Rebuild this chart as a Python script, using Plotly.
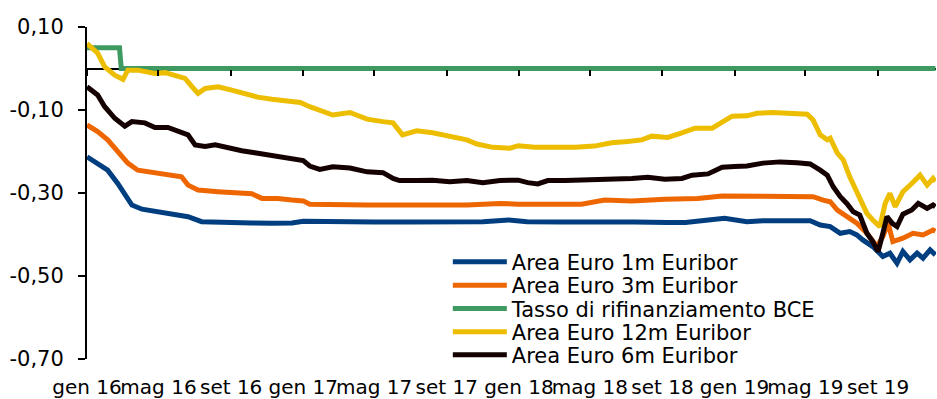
import plotly.graph_objects as go

# ---- data -------------------------------------------------------------
tick_dates = ["2016-01-01", "2016-05-01", "2016-09-01", "2017-01-01", "2017-05-01",
              "2017-09-01", "2018-01-01", "2018-05-01", "2018-09-01", "2019-01-01",
              "2019-05-01", "2019-09-01"]
tick_labels = ["gen 16", "mag 16", "set 16", "gen 17", "mag 17", "set 17",
               "gen 18", "mag 18", "set 18", "gen 19", "mag 19", "set 19"]

y_tick_vals = [0.10, -0.10, -0.30, -0.50, -0.70]
y_tick_text = ["0,10", "-0,10", "-0,30", "-0,50", "-0,70"]

eur1m_dates = ["2016-01-01", "2016-01-19", "2016-02-05", "2016-02-22", "2016-03-08",
               "2016-03-17", "2016-04-03", "2016-04-30", "2016-05-29", "2016-06-20",
               "2016-07-13", "2016-08-22", "2016-10-06", "2016-11-09", "2016-12-13",
               "2017-01-01", "2017-03-01", "2017-05-01", "2017-07-01", "2017-09-01",
               "2017-11-01", "2017-12-15", "2018-01-15", "2018-03-15", "2018-05-15",
               "2018-07-15", "2018-09-10", "2018-10-10", "2018-12-15", "2019-01-22",
               "2019-02-18", "2019-04-05", "2019-05-09", "2019-05-26", "2019-06-12",
               "2019-06-29", "2019-07-15", "2019-07-27", "2019-08-06", "2019-08-23",
               "2019-09-09", "2019-09-21", "2019-10-03", "2019-10-13", "2019-10-25",
               "2019-11-06", "2019-11-16", "2019-11-28", "2019-12-07"]
eur1m = [-0.213, -0.228, -0.245, -0.277, -0.309,
         -0.329, -0.339, -0.345, -0.351, -0.357,
         -0.369, -0.369, -0.372, -0.373, -0.372,
         -0.368, -0.370, -0.370, -0.370, -0.370,
         -0.369, -0.365, -0.369, -0.370, -0.369,
         -0.370, -0.371, -0.371, -0.361, -0.369,
         -0.367, -0.367, -0.367, -0.377, -0.381,
         -0.397, -0.393, -0.401, -0.413, -0.429,
         -0.453, -0.445, -0.469, -0.441, -0.461,
         -0.445, -0.457, -0.437, -0.449]

eur3m_dates = ["2016-01-01", "2016-01-19", "2016-02-05", "2016-02-22", "2016-03-10",
               "2016-03-27", "2016-04-20", "2016-05-12", "2016-06-09", "2016-06-20",
               "2016-07-07", "2016-08-10", "2016-09-13", "2016-10-06", "2016-10-23",
               "2016-11-19", "2016-12-13", "2017-01-01", "2017-01-12", "2017-02-20",
               "2017-04-19", "2017-06-13", "2017-08-08", "2017-10-05", "2017-11-30",
               "2017-12-31", "2018-02-19", "2018-04-17", "2018-05-26", "2018-07-11",
               "2018-09-05", "2018-10-31", "2018-12-11", "2019-01-01", "2019-02-18",
               "2019-04-17", "2019-05-14", "2019-05-31", "2019-06-12", "2019-06-24",
               "2019-07-10", "2019-07-27", "2019-08-13", "2019-08-30", "2019-09-09",
               "2019-09-18", "2019-09-26", "2019-10-13", "2019-10-30", "2019-11-16",
               "2019-12-03", "2019-12-07"]
eur3m = [-0.136, -0.152, -0.172, -0.200, -0.228,
         -0.245, -0.251, -0.257, -0.261, -0.281,
         -0.293, -0.297, -0.301, -0.302, -0.313,
         -0.313, -0.317, -0.319, -0.327, -0.329,
         -0.329, -0.329, -0.329, -0.329, -0.325,
         -0.327, -0.327, -0.327, -0.317, -0.319,
         -0.315, -0.313, -0.307, -0.307, -0.309,
         -0.309, -0.309, -0.317, -0.321, -0.341,
         -0.357, -0.373, -0.397, -0.429, -0.405,
         -0.373, -0.417, -0.409, -0.397, -0.401,
         -0.389, -0.392]

bce_dates = ["2016-01-01", "2016-02-25", "2016-02-28", "2019-12-07"]
bce = [0.05, 0.05, 0.00, 0.00]

eur12m_dates = ["2016-01-01", "2016-01-19", "2016-01-31", "2016-02-17", "2016-03-02",
                "2016-03-10", "2016-03-27", "2016-04-08", "2016-04-25", "2016-05-12",
                "2016-05-29", "2016-06-15", "2016-06-27", "2016-07-07", "2016-07-19",
                "2016-08-10", "2016-09-02", "2016-09-24", "2016-10-16", "2016-11-09",
                "2016-12-01", "2016-12-27", "2017-01-12", "2017-01-29", "2017-02-20",
                "2017-03-21", "2017-04-19", "2017-05-16", "2017-06-02", "2017-06-18",
                "2017-07-12", "2017-08-08", "2017-09-06", "2017-10-05", "2017-10-22",
                "2017-11-18", "2017-12-17", "2017-12-31", "2018-01-28", "2018-03-03",
                "2018-04-06", "2018-05-09", "2018-06-07", "2018-07-04", "2018-07-28",
                "2018-08-14", "2018-09-10", "2018-10-04", "2018-10-26", "2018-11-24",
                "2018-12-11", "2018-12-28", "2019-01-22", "2019-02-08", "2019-03-07",
                "2019-04-05", "2019-05-04", "2019-05-14", "2019-05-26", "2019-06-07",
                "2019-06-12", "2019-06-24", "2019-07-04", "2019-07-15", "2019-07-27",
                "2019-08-01", "2019-08-13", "2019-08-23", "2019-09-04", "2019-09-13",
                "2019-09-21", "2019-09-30", "2019-10-13", "2019-10-28", "2019-11-11",
                "2019-11-23", "2019-12-03", "2019-12-07"]
eur12m = [0.060, 0.037, 0.004, -0.016, -0.026,
          -0.004, -0.004, -0.008, -0.012, -0.010,
          -0.016, -0.024, -0.044, -0.060, -0.048,
          -0.044, -0.052, -0.060, -0.069, -0.074,
          -0.078, -0.082, -0.092, -0.100, -0.112,
          -0.106, -0.122, -0.128, -0.131, -0.160,
          -0.150, -0.155, -0.164, -0.172, -0.182,
          -0.190, -0.192, -0.186, -0.190, -0.191,
          -0.190, -0.187, -0.179, -0.176, -0.172,
          -0.163, -0.166, -0.155, -0.144, -0.144,
          -0.128, -0.115, -0.114, -0.108, -0.106,
          -0.108, -0.110, -0.124, -0.160, -0.172,
          -0.168, -0.204, -0.220, -0.261, -0.297,
          -0.309, -0.349, -0.365, -0.381, -0.325,
          -0.301, -0.333, -0.297, -0.277, -0.257,
          -0.281, -0.265, -0.272]

eur6m_dates = ["2016-01-01", "2016-01-19", "2016-01-31", "2016-02-17", "2016-03-05",
               "2016-03-17", "2016-04-08", "2016-04-25", "2016-05-17", "2016-06-03",
               "2016-06-20", "2016-07-02", "2016-07-19", "2016-08-05", "2016-08-27",
               "2016-09-19", "2016-10-11", "2016-11-02", "2016-11-26", "2016-12-18",
               "2017-01-01", "2017-01-12", "2017-01-29", "2017-02-20", "2017-03-21",
               "2017-04-19", "2017-05-16", "2017-06-02", "2017-06-13", "2017-07-12",
               "2017-08-08", "2017-09-06", "2017-10-05", "2017-11-01", "2017-11-30",
               "2017-12-31", "2018-01-16", "2018-02-02", "2018-02-19", "2018-03-20",
               "2018-04-17", "2018-05-14", "2018-06-12", "2018-07-11", "2018-08-07",
               "2018-09-05", "2018-10-04", "2018-10-21", "2018-11-17", "2018-12-11",
               "2019-01-01", "2019-01-22", "2019-02-18", "2019-03-19", "2019-04-17",
               "2019-05-09", "2019-05-26", "2019-06-07", "2019-06-17", "2019-06-29",
               "2019-07-10", "2019-07-21", "2019-08-01", "2019-08-13", "2019-08-23",
               "2019-09-01", "2019-09-09", "2019-09-16", "2019-09-25", "2019-10-03",
               "2019-10-13", "2019-10-28", "2019-11-08", "2019-11-23", "2019-12-03",
               "2019-12-07"]
eur6m = [-0.044, -0.064, -0.092, -0.120, -0.139,
         -0.128, -0.131, -0.142, -0.142, -0.152,
         -0.160, -0.184, -0.188, -0.184, -0.192,
         -0.198, -0.203, -0.208, -0.214, -0.216,
         -0.222, -0.235, -0.243, -0.237, -0.240,
         -0.249, -0.251, -0.265, -0.270, -0.270,
         -0.269, -0.273, -0.270, -0.275, -0.270,
         -0.269, -0.275, -0.278, -0.270, -0.270,
         -0.269, -0.267, -0.267, -0.265, -0.262,
         -0.267, -0.265, -0.257, -0.254, -0.238,
         -0.236, -0.235, -0.228, -0.225, -0.227,
         -0.230, -0.245, -0.257, -0.285, -0.309,
         -0.325, -0.345, -0.353, -0.397, -0.417,
         -0.441, -0.397, -0.357, -0.373, -0.381,
         -0.351, -0.341, -0.325, -0.337, -0.329,
         -0.333]

# ---- styling ----------------------------------------------------------
FONT = "DejaVu Sans"
x_range = ["2016-01-01", "2019-12-08"]
y_range = [-0.70, 0.10]

series = [
    ("Area Euro 1m Euribor", eur1m_dates, eur1m, "#003E80", "legend"),
    ("Area Euro 3m Euribor", eur3m_dates, eur3m, "#EE6600", "legend2"),
    ("Tasso di rifinanziamento BCE", bce_dates, bce, "#3E9A60", "legend3"),
    ("Area Euro 12m Euribor", eur12m_dates, eur12m, "#EDBE00", "legend4"),
    ("Area Euro 6m Euribor", eur6m_dates, eur6m, "#140000", "legend5"),
]

fig = go.Figure()
for name, xs, ys, color, leg in series:
    fig.add_trace(go.Scatter(
        x=xs, y=ys, name=name, mode="lines",
        line=dict(color=color, width=5),
        legend=leg,
    ))

# empty trace so the secondary x axis (tick marks on the zero line) is drawn
fig.add_trace(go.Scatter(x=[x_range[0]], y=[None], xaxis="x2", mode="lines",
                         showlegend=False, hoverinfo="skip"))

# fraction of the plot height where y = 0 sits
zero_pos = (0 - y_range[0]) / (y_range[1] - y_range[0])

layout_legends = {}
legend_rows = [0.292, 0.221, 0.151, 0.081, 0.012]
for row_y, (_, _, _, _, leg) in zip(legend_rows, series):
    layout_legends[leg] = dict(
        x=0.425, y=row_y, xanchor="left", yanchor="middle",
        bgcolor="rgba(0,0,0,0)", borderwidth=0, itemwidth=54,
        font=dict(family=FONT, size=21, color="#000000"),
    )

fig.update_layout(
    width=937, height=399,
    margin=dict(l=87, r=1, t=27, b=40, autoexpand=False),
    paper_bgcolor="white", plot_bgcolor="white",
    font=dict(family=FONT, size=20, color="#000000"),
    showlegend=True,
    xaxis=dict(
        type="date", range=x_range,
        tickvals=tick_dates, ticktext=tick_labels, tickangle=0,
        showline=False, showgrid=False, zeroline=False,
        ticks="", ticklabelstandoff=14,
        tickfont=dict(family=FONT, size=20, color="#000000"),
    ),
    xaxis2=dict(
        type="date", range=x_range, overlaying="x", anchor="free",
        position=zero_pos, side="bottom",
        tickvals=tick_dates, showticklabels=False,
        showline=False, showgrid=False, zeroline=False,
        ticks="outside", ticklen=6, tickwidth=2, tickcolor="#000000",
    ),
    yaxis=dict(
        range=y_range, tickvals=y_tick_vals, ticktext=y_tick_text,
        showline=True, linecolor="#000000", linewidth=2,
        ticks="outside", ticklen=7, tickwidth=2, tickcolor="#000000",
        showgrid=False,
        zeroline=True, zerolinecolor="#000000", zerolinewidth=2,
        ticklabelstandoff=10,
        tickfont=dict(family=FONT, size=21, color="#000000"),
    ),
    **layout_legends,
)

fig.write_html("out.html")
